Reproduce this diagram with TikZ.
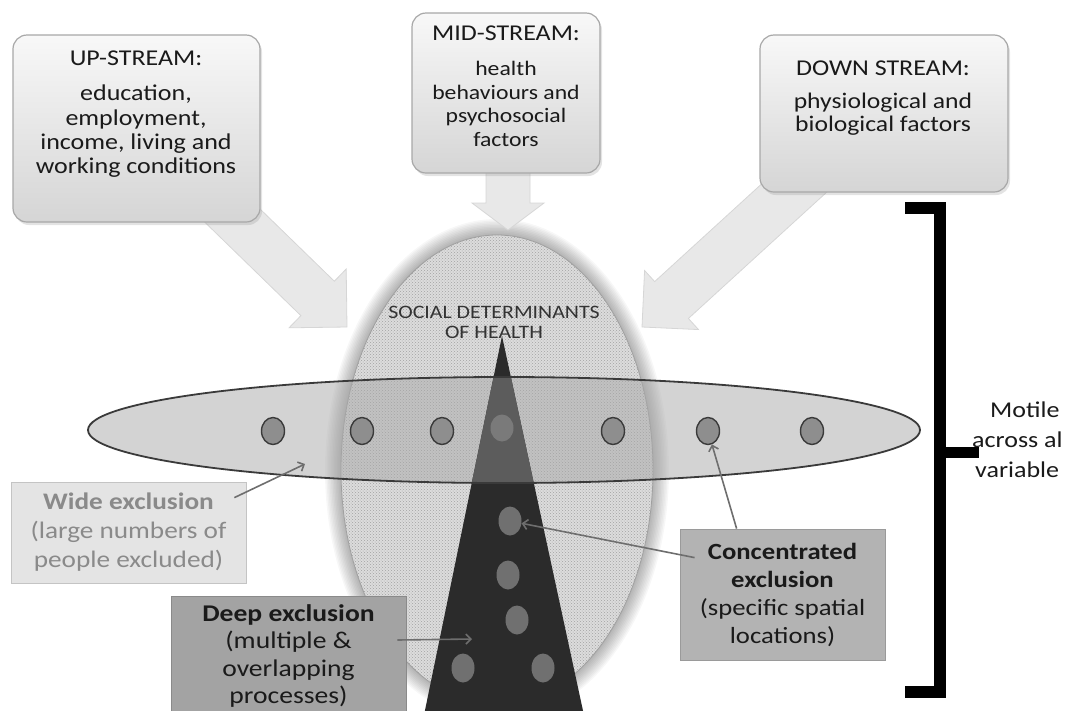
\documentclass[tikz,border=0pt]{standalone}
\usepackage{fontspec}
\setmainfont{Carlito}[FakeStretch=1.15]
\usetikzlibrary{calc,patterns,shadows,arrows.meta,shapes.geometric}

\definecolor{boxtop}{HTML}{F8F8F8}
\definecolor{boxbot}{HTML}{D5D5D5}
\definecolor{boxline}{HTML}{A8A8A8}
\definecolor{arrowfill}{HTML}{E8E8E8}
\definecolor{arrowline}{HTML}{D6D6D6}
\definecolor{hatchbase}{HTML}{DCDCDC}
\definecolor{hatchdot}{HTML}{A2A2A2}
\definecolor{sdhline}{HTML}{A0A0A0}
\definecolor{bandfill}{HTML}{A8A8A8}
\definecolor{bandline}{HTML}{3A3A3A}
\definecolor{tridark}{HTML}{2B2B2B}
\definecolor{triband}{HTML}{5C5C5C}
\definecolor{faintdot}{HTML}{7A7A7A}
\definecolor{dotfill}{HTML}{8E8E8E}
\definecolor{dotline}{HTML}{3A3A3A}
\definecolor{tridot}{HTML}{707070}
\definecolor{widefill}{HTML}{E4E4E4}
\definecolor{wideline}{HTML}{C4C4C4}
\definecolor{widetext}{HTML}{8A8A8A}
\definecolor{deepfill}{HTML}{A3A3A3}
\definecolor{deepline}{HTML}{8A8A8A}
\definecolor{concfill}{HTML}{B3B3B3}
\definecolor{concline}{HTML}{9A9A9A}
\definecolor{inktext}{HTML}{1A1A1A}
\definecolor{connc}{HTML}{6E6E6E}

\newcommand\fs[2]{\fontsize{#1}{#2}\selectfont}

% block arrow: tip x, tip y, angle, total length, head length, head half width, shaft half width
\newcommand\blockarrow[7]{%
  \begin{scope}[shift={(#1,#2)},rotate=#3]
    \filldraw[fill=arrowfill, draw=arrowline, line width=0.8]
      (0,0) -- (-#5,#6) -- (-#5,#7) -- (-#4,#7) -- (-#4,-#7) -- (-#5,-#7) -- (-#5,-#6) -- cycle;
  \end{scope}}

\begin{document}
\begin{tikzpicture}[x=1pt,y=-1pt,
  streambox/.style={rounded corners=14pt, draw=boxline, line width=1.2,
    top color=boxtop, bottom color=boxbot, inner sep=0,
    drop shadow={opacity=0.22, shadow xshift=2pt, shadow yshift=-3pt}},
  hdr/.style={text=inktext, inner sep=0, font=\fs{22.6}{26}},
  body/.style={text=inktext, inner sep=0, align=center},
  dot/.style={ellipse, fill=dotfill, draw=dotline, line width=1.4,
    minimum width=23, minimum height=27, inner sep=0},
  tdot/.style={ellipse, fill=tridot, minimum width=23, minimum height=29, inner sep=0},
  conn/.style={draw=connc, line width=1.6, -{Straight Barb[length=5pt,width=10pt]}},
  labelbox/.style={rectangle, line width=0.8, align=center, inner sep=0}]

\useasboundingbox (0,0) rectangle (1075,710);
\clip (0,0) rectangle (1075,710);

% soft glow around the determinants ellipse
\foreach \i in {1,...,12}
  \fill[black, opacity=0.03] (497,470) ellipse [x radius=154+1.5*\i, y radius=233+1.5*\i];

% social determinants ellipse
\fill[hatchbase] (497,470) ellipse [x radius=156, y radius=235];
\fill[pattern=crosshatch dots, pattern color=hatchdot] (497,470) ellipse [x radius=156, y radius=235];
\draw[sdhline, line width=0.8] (497,470) ellipse [x radius=156, y radius=235];

% block arrows from the three streams
\blockarrow{347}{327}{-44.2}{185}{41}{41}{24}
\blockarrow{642}{327}{222.4}{240}{40}{40}{25}
\blockarrow{508}{230}{-90}{65}{27}{36}{22}

% wide band fill
\fill[bandfill, opacity=0.5] (504,430) ellipse [x radius=416, y radius=53];

% deep exclusion wedge
\coordinate (apex) at (502,336);
\coordinate (baseL) at (423,720);
\coordinate (baseR) at (585,720);
\fill[tridark] (apex) -- (baseR) -- (baseL) -- cycle;
\begin{scope}
  \clip (504,430) ellipse [x radius=416, y radius=53];
  \fill[triband] (apex) -- (baseR) -- (baseL) -- cycle;
\end{scope}

% people in the wide band
\node[dot] (d1) at (273,431) {};
\node[dot] (d2) at (362,431) {};
\node[dot] (d3) at (442,431) {};
\node[dot] (d4) at (613,431) {};
\node[dot] (d5) at (708,431) {};
\node[dot] (d6) at (812,431) {};
\node[ellipse, fill=faintdot, minimum width=23, minimum height=27, inner sep=0] (dF) at (502,428) {};

\draw[bandline, line width=1.8] (504,430) ellipse [x radius=416, y radius=53];

% people in the wedge
\node[tdot] (t1) at (510,521) {};
\node[tdot] (t2) at (508,575) {};
\node[tdot] (t3) at (517,620) {};
\node[tdot] (t4) at (463,668) {};
\node[tdot] (t5) at (543,668) {};

\node[text=black!80, inner sep=0, align=center, font=\fs{19}{20}] (sdh) at (494,322)
  {SOCIAL DETERMINANTS\\OF HEALTH};

% stream boxes
\node[streambox, minimum width=247, minimum height=187] (upbox) at (136.5,128.5) {};
\node[streambox, minimum width=188, minimum height=160] (midbox) at (506,93) {};
\node[streambox, minimum width=248, minimum height=157] (downbox) at (884,113.5) {};

\node[hdr] (uphead) at (136,58) {UP-STREAM:};
\node[body, font=\fs{22.6}{24.3}] (upbody) at (136,131.5)
  {education,\\employment,\\income, living and\\working conditions};
\node[hdr] (midhead) at (506,33) {MID-STREAM:};
\node[body, font=\fs{20.6}{23.5}] (midbody) at (506,104)
  {health\\behaviours and\\psychosocial\\factors};
\node[hdr] (downhead) at (883,68) {DOWN STREAM:};
\node[body, font=\fs{22.3}{22.5}] (downbody) at (883,114)
  {physiological and\\biological factors};

% exclusion labels
\node[labelbox, fill=widefill, draw=wideline, text=widetext, font=\fs{23.7}{29},
  minimum width=235, minimum height=101] (wide) at (128.5,532.5)
  {\textbf{Wide exclusion}\\(large numbers of\\people excluded)};
\node[labelbox, fill=deepfill, draw=deepline,
  minimum width=235, minimum height=130] (deep) at (288.5,661) {};
\node[labelbox, text=inktext, font=\fs{24}{27.5}] (deeptext) at (288.5,656)
  {\textbf{Deep exclusion}\\(multiple \&\\overlapping\\processes)};
\node[labelbox, fill=concfill, draw=concline, text=inktext, font=\fs{23.2}{28},
  minimum width=205, minimum height=131] (conc) at (782.5,594.5)
  {\textbf{Concentrated}\\\textbf{exclusion}\\(specific spatial\\locations)};

% pointers
\coordinate (wideTip) at (305,464);
\coordinate (deepTip) at (472,639);
\draw[conn] ($(wide.north east)+(-12,16)$) -- (wideTip);
\draw[conn] ($(deep.east)+(-9,-21)$) -- (deepTip);
\draw[conn] ($(conc.north west)+(15,29)$) -- (t1);
\draw[conn] ($(conc.north west)+(57,0)$) -- (d5);

% bracket
\coordinate (brTop) at (905,208);
\coordinate (brTopC) at (940,208);
\coordinate (brBotC) at (940,692);
\coordinate (brBot) at (905,692);
\coordinate (brMid) at (940,452);
\coordinate (brTick) at (979,452);
\draw[black, line width=12, line join=miter] (brTop) -- (brTopC) -- (brBotC) -- (brBot);
\draw[black, line width=11] (brMid) -- (brTick);

\node[anchor=west, align=left, inner sep=0, text=inktext, font=\fs{22.6}{30}] (motile) at (972,440)
  {\hspace*{18pt}Motile\\across al\\\hspace*{3pt}variable};

\end{tikzpicture}
\end{document}
